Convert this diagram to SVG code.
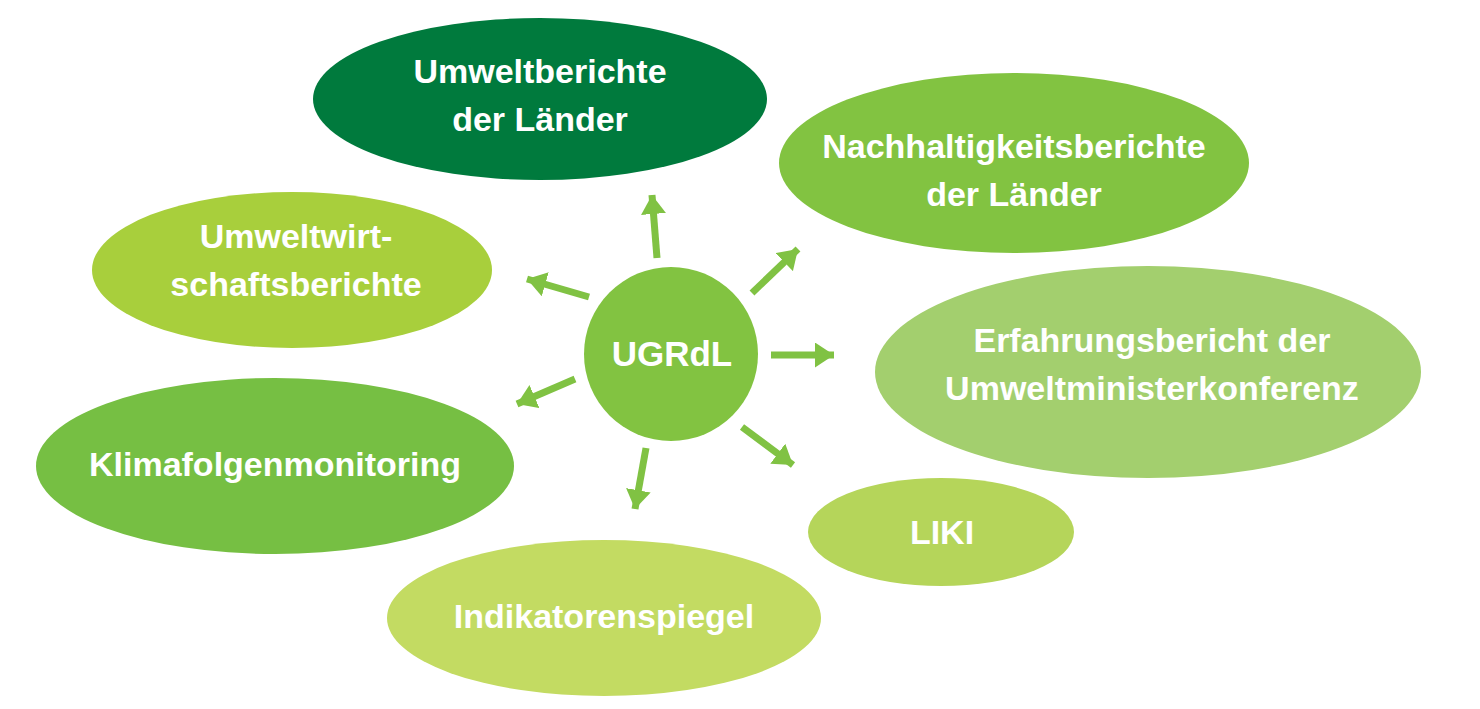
<svg xmlns="http://www.w3.org/2000/svg" width="1480" height="709" viewBox="0 0 1480 709">
<style>
text{font-family:"Liberation Sans",Arial,sans-serif;font-weight:bold;fill:#fff;font-size:34px;text-anchor:middle}
.arrow{stroke:#80C243;stroke-width:7;fill:none;marker-end:url(#ah)}
</style>
<defs>
<marker id="ah" viewBox="0 0 19 25" refX="19" refY="12.5" markerUnits="userSpaceOnUse" markerWidth="19" markerHeight="25" orient="auto">
<path d="M0,0 L19,12.5 L0,25 z" fill="#80C243"/>
</marker>
</defs>
<rect width="1480" height="709" fill="#fff"/>
<g id="node-umweltberichte"><ellipse cx="540" cy="99" rx="227" ry="81" fill="#007A3D"/><text x="540" y="83">Umweltberichte</text><text x="540" y="131">der Länder</text></g>
<g id="node-nachhaltigkeit"><ellipse cx="1014" cy="163" rx="235" ry="90" fill="#82C341"/><text x="1014" y="158">Nachhaltigkeitsberichte</text><text x="1014" y="206">der Länder</text></g>
<g id="node-umweltwirtschaft"><ellipse cx="292" cy="270" rx="200" ry="78" fill="#A8CF3C"/><text x="296" y="248">Umweltwirt-</text><text x="296" y="296">schaftsberichte</text></g>
<g id="node-erfahrung"><ellipse cx="1148" cy="372" rx="273" ry="106" fill="#A3CF6E"/><text x="1152" y="352">Erfahrungsbericht der</text><text x="1152" y="400">Umweltministerkonferenz</text></g>
<g id="node-klima"><ellipse cx="275" cy="466" rx="239" ry="88" fill="#76BF43"/><text x="275" y="476">Klimafolgenmonitoring</text></g>
<g id="node-liki"><ellipse cx="941" cy="532" rx="133" ry="54" fill="#B5D55A"/><text x="942" y="544">LIKI</text></g>
<g id="node-indikatoren"><ellipse cx="604" cy="618" rx="217" ry="78" fill="#C3DB62"/><text x="604" y="628">Indikatorenspiegel</text></g>
<g id="node-ugrdl"><circle cx="671" cy="354" r="87" fill="#82C341"/><text x="672" y="366" style="font-size:35px">UGRdL</text></g>
<g id="connectors">
<line class="arrow" x1="657" y1="258" x2="652" y2="195"/>
<line class="arrow" x1="752" y1="293" x2="798" y2="249"/>
<line class="arrow" x1="771" y1="355" x2="834" y2="355"/>
<line class="arrow" x1="742" y1="427" x2="793" y2="465"/>
<line class="arrow" x1="646" y1="448" x2="635" y2="509"/>
<line class="arrow" x1="575" y1="379" x2="517" y2="404"/>
<line class="arrow" x1="589" y1="297" x2="527" y2="279"/>
</g>
</svg>
